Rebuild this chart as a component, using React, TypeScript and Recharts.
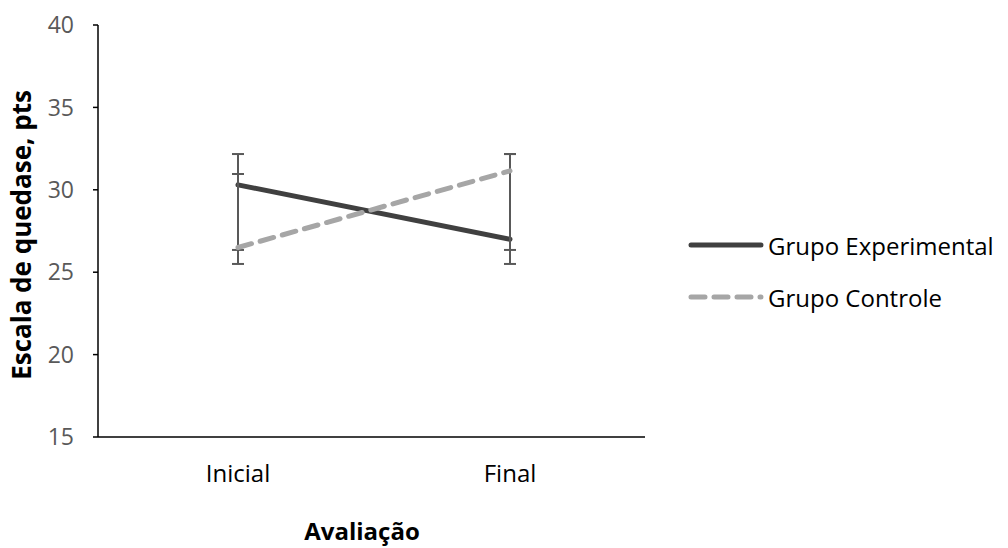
import React from "react";
import { ErrorBar, Line, LineChart, XAxis, YAxis } from "recharts";

const categories = ["Inicial", "Final"];
const experimental = [30.3, 27.0];
const controle = [26.5, 31.15];
// [para baixo, para cima] relativo ao valor
const experimentalErr = [
  [4.8, 1.87],
  [1.5, 5.17],
];
const controleErr = [
  [0.15, 4.46],
  [4.8, 1.02],
];
const yTicks = [15, 20, 25, 30, 35, 40];

const data = categories.map((c, i) => ({
  cat: c,
  exp: experimental[i],
  ctl: controle[i],
  expErr: experimentalErr[i],
  ctlErr: controleErr[i],
}));

const FONT = "'Open Sans', 'Noto Sans', sans-serif";

function LegendBox() {
  const items = [
    { label: "Grupo Experimental", color: "#404040", dash: undefined },
    { label: "Grupo Controle", color: "#a6a6a6", dash: "14 9" },
  ];
  return (
    <div
      style={{
        position: "absolute",
        left: 688,
        top: 219,
        fontFamily: FONT,
        fontSize: 24,
        color: "#000",
        whiteSpace: "nowrap",
      }}
    >
      {items.map((it) => (
        <div key={it.label} style={{ display: "flex", alignItems: "center", height: 52 }}>
          <svg width={76} height={10}>
            <line
              x1={3}
              y1={5}
              x2={73}
              y2={5}
              stroke={it.color}
              strokeWidth={5}
              strokeLinecap="round"
              strokeDasharray={it.dash}
            />
          </svg>
          <span style={{ marginLeft: 4 }}>{it.label}</span>
        </div>
      ))}
    </div>
  );
}

export default function App() {
  return (
    <div style={{ position: "absolute", left: 0, top: 0, width: 1008, height: 548, background: "#fff" }}>
      <LineChart
        width={1008}
        height={548}
        data={data}
        margin={{ top: 25, right: 363, bottom: 0, left: 0 }}
      >
        <XAxis
          dataKey="cat"
          height={111}
          padding={{ left: 140, right: 135 }}
          axisLine={{ stroke: "#000", strokeWidth: 1.5 }}
          tickLine={false}
          tick={{ fill: "#000", fontSize: 24, fontFamily: FONT }}
          tickMargin={22}
          label={{
            content: () => (
              <text
                x={362}
                y={540}
                textAnchor="middle"
                fontFamily={FONT}
                fontSize={24}
                fontWeight="bold"
                fill="#000"
              >
                Avaliação
              </text>
            ),
          }}
        />
        <YAxis
          width={98}
          domain={[15, 40]}
          ticks={yTicks}
          interval={0}
          axisLine={{ stroke: "#000", strokeWidth: 1.5 }}
          tickLine={{ stroke: "#000", strokeWidth: 1.5 }}
          tickSize={5}
          tickMargin={19}
          tick={{ fill: "#595959", fontSize: 23, fontFamily: FONT }}
          label={{
            content: () => (
              <text
                x={31}
                y={235}
                transform="rotate(-90 31 235)"
                textAnchor="middle"
                fontFamily={FONT}
                fontSize={26}
                fontWeight="bold"
                fill="#000"
              >
                Escala de quedase, pts
              </text>
            ),
          }}
        />
        <Line
          dataKey="exp"
          name="Grupo Experimental"
          stroke="#404040"
          strokeWidth={5}
          dot={false}
          isAnimationActive={false}
          strokeLinecap="round"
        >
          <ErrorBar dataKey="expErr" width={6} stroke="#595959" strokeWidth={2} direction="y" />
        </Line>
        <Line
          dataKey="ctl"
          name="Grupo Controle"
          stroke="#a6a6a6"
          strokeWidth={5}
          strokeDasharray="14 9"
          strokeLinecap="round"
          dot={false}
          isAnimationActive={false}
        >
          <ErrorBar dataKey="ctlErr" width={6} stroke="#595959" strokeWidth={2} direction="y" />
        </Line>
      </LineChart>
      <LegendBox />
    </div>
  );
}
